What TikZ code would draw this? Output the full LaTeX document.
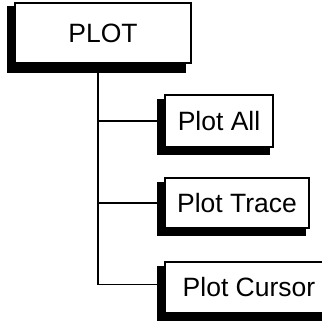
\documentclass[tikz,border=0pt]{standalone}
\usepackage{fontspec}
\setmainfont{Liberation Sans}
\usetikzlibrary{backgrounds,calc}
\begin{document}
\begin{tikzpicture}[x=1pt,y=-1pt,
  box/.style={draw=black,line width=1.3pt,fill=white,inner sep=0pt,
    font=\fontsize{26.5}{30}\selectfont},
  link/.style={draw=black,line width=1.2pt},
  shade/.style={fill=black}]
\useasboundingbox (0,0) rectangle (322,322);
\node[box,minimum width=176pt,minimum height=60pt] (root) at (103,33) {PLOT\hspace{16pt}};
\node[box,minimum width=108pt,minimum height=52pt] (c1) at (219,121) {Plot All};
\node[box,minimum width=144pt,minimum height=50pt] (c2) at (237,203) {Plot Trace};
\node[box,minimum width=168pt,minimum height=51pt] (c3) at (249,287.5) {Plot Cursor};
\coordinate (trunk) at ([xshift=-5pt]root.south);
\begin{pgfonlayer}{background}
  \fill[shade] ([shift={(-7,9)}]root.south west) rectangle ([shift={(-6,4)}]root.north east);
  \foreach \c in {c1,c2,c3}
    \fill[shade] ([shift={(-7,7)}]\c.south west) rectangle ([shift={(-4,5)}]\c.north east);
  \draw[link] (trunk) |- ([yshift=3pt]c3.west);
  \draw[link] (trunk |- c1.west) -- (c1.west);
  \draw[link] (trunk |- c2.west) -- (c2.west);
\end{pgfonlayer}
\end{tikzpicture}
\end{document}
